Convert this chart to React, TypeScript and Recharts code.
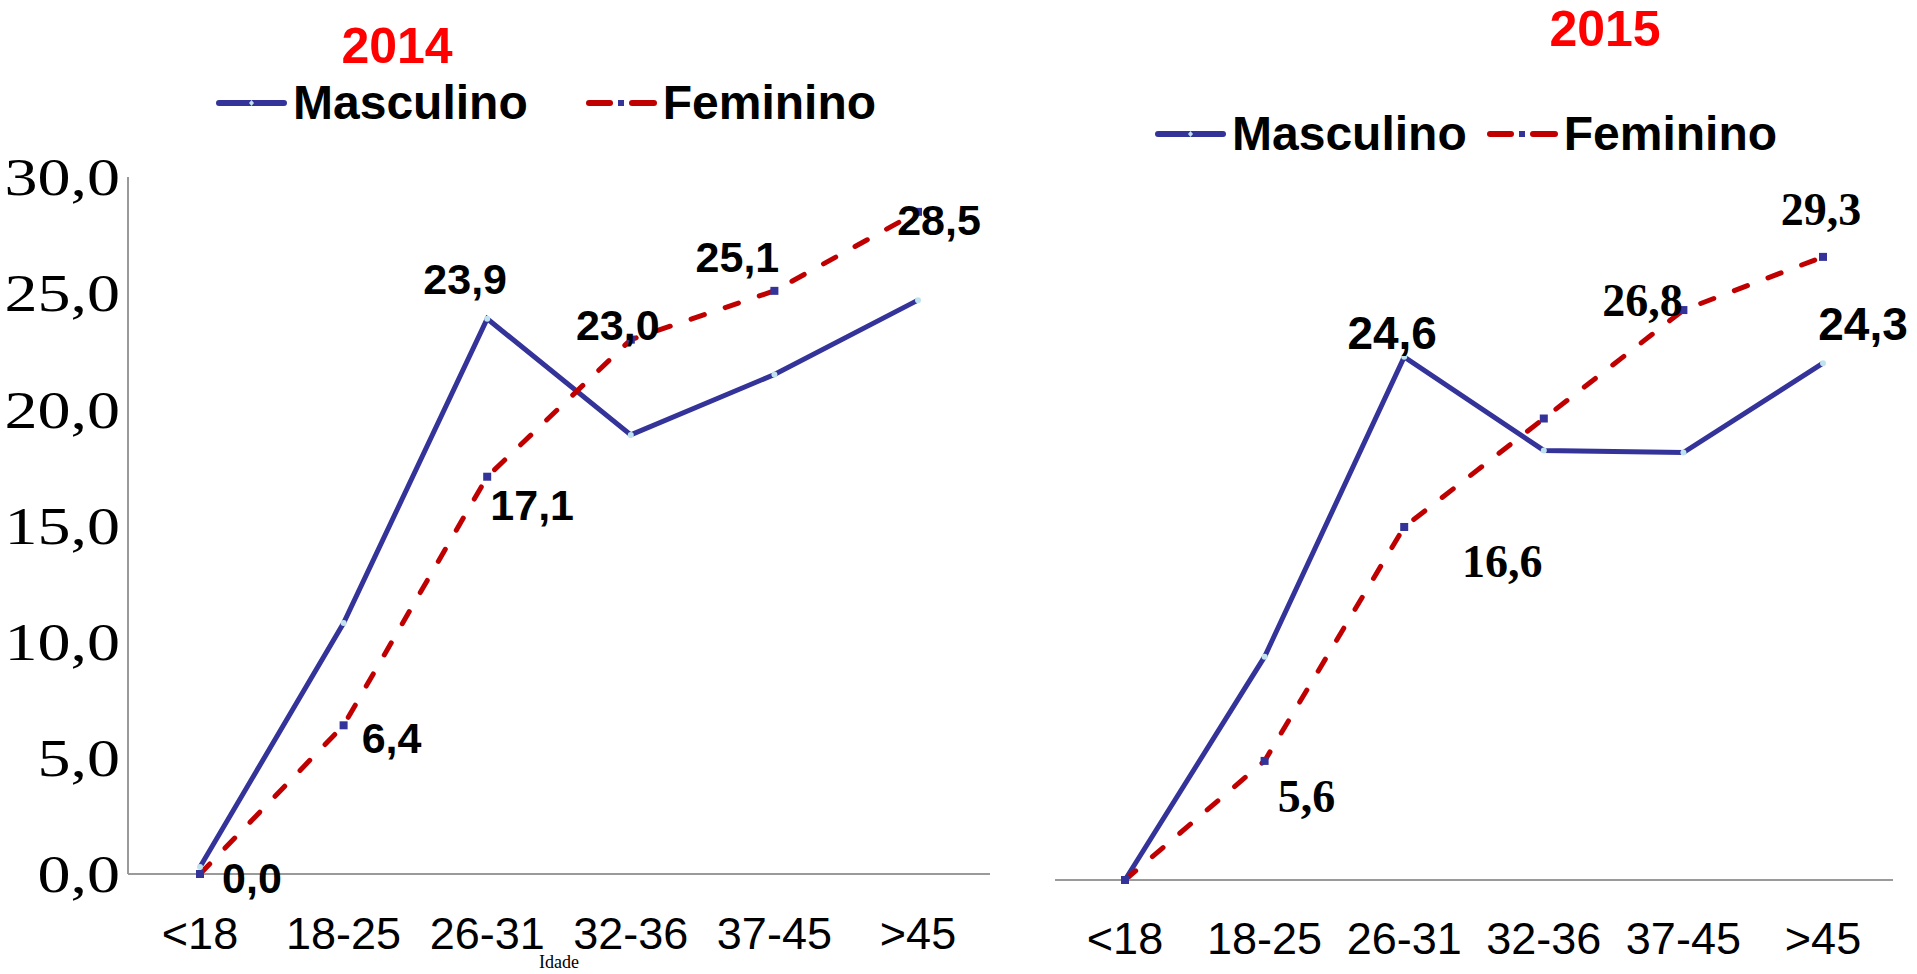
import { LabelList, Legend, Line, LineChart, XAxis, YAxis } from "recharts"

const faixas = ["<18", "18-25", "26-31", "32-36", "37-45", ">45"]
const masculino2014 = [0.3, 10.8, 23.9, 18.9, 21.5, 24.7]
const feminino2014 = [0.0, 6.4, 17.1, 23.0, 25.1, 28.5]
const masculino2015 = [0.0, 10.5, 24.6, 20.2, 20.1, 24.3]
const feminino2015 = [0.0, 5.6, 16.6, 21.7, 26.8, 29.3]
const yTicks = [0, 5, 10, 15, 20, 25, 30]
const seriesOrder = ["Masculino", "Feminino"]

const MASC = "#333399"
const FEM = "#C00000"
const AXIS = "#9a9a9a"
const SANS = "'Liberation Sans', Arial, sans-serif"
const SERIF = "'Liberation Serif', 'Times New Roman', serif"

const rows = (m: number[], f: number[]) =>
  faixas.map((faixa, i) => ({ faixa, Masculino: m[i], Feminino: f[i] }))

const fmt = (v: number) => v.toFixed(1).replace(".", ",")

// label offsets from the point, null = no label
type Off = [number, number] | null
const mascOff2014: Off[] = [null, null, [-22, -40], null, null, null]
const femOff2014: Off[] = [[52, 4], [48, 13], [45, 28], [-13, -15], [-37, -34], [21, 8]]
const mascOff2015: Off[] = [null, null, [-12, -24], null, null, [40, -39]]
const femOff2015: Off[] = [null, [42, 36], [98, 35], null, [-41, -10], [-2, -47]]

const makeLabel = (offs: Off[], family: string, size: number) => (props: any) => {
  const { x, y, value, index } = props
  const o = offs[index]
  if (!o || x == null) return null
  return (
    <text
      x={x + o[0]}
      y={y + o[1]}
      textAnchor="middle"
      dominantBaseline="central"
      fontFamily={family}
      fontWeight="bold"
      fontSize={size}
      fill="#000"
    >
      {fmt(value)}
    </text>
  )
}

const MascDot = (props: any) => {
  const { cx, cy, index } = props
  if (cx == null) return <g key={index} />
  return <circle key={index} cx={cx} cy={cy} r={3} fill="#BFE3EE" />
}

const FemDot = (props: any) => {
  const { cx, cy, index } = props
  if (cx == null) return <g key={index} />
  return <rect key={index} x={cx - 4} y={cy - 4} width={8} height={8} fill={MASC} />
}

const MascIcon = () => (
  <svg width={71} height={12}>
    <line x1={3} y1={6} x2={68} y2={6} stroke={MASC} strokeWidth={6} strokeLinecap="round" />
    <polygon points="35.5,3 38,6 35.5,9 33,6" fill="#BFE3EE" />
  </svg>
)

const FemIcon = () => (
  <svg width={71} height={12}>
    <line x1={3} y1={6} x2={24} y2={6} stroke={FEM} strokeWidth={6} strokeLinecap="round" />
    <rect x={32} y={3} width={6} height={6} fill={MASC} />
    <line x1={46} y1={6} x2={68} y2={6} stroke={FEM} strokeWidth={6} strokeLinecap="round" />
  </svg>
)

const legendContent = (gap: number) => (props: any) => {
  const items = [...(props.payload || [])].sort(
    (a: any, b: any) => seriesOrder.indexOf(a.value) - seriesOrder.indexOf(b.value)
  )
  return (
    <div
      style={{
        display: "flex",
        alignItems: "center",
        gap,
        fontFamily: SANS,
        fontWeight: "bold",
        fontSize: 48,
        lineHeight: "46px",
        color: "#000",
      }}
    >
      {items.map((entry: any) => (
        <div key={entry.value} style={{ display: "flex", alignItems: "center", gap: 6 }}>
          {entry.value === "Masculino" ? <MascIcon /> : <FemIcon />}
          <span>{entry.value}</span>
        </div>
      ))}
    </div>
  )
}

const YTick = (props: any) => {
  const { x, y, payload } = props
  return (
    <text
      transform={`translate(${x},${y}) scale(1.27,1)`}
      textAnchor="end"
      dy="0.35em"
      fontFamily={SERIF}
      fontSize={52}
      fill="#000"
    >
      {fmt(payload.value)}
    </text>
  )
}

const titleStyle = {
  position: "absolute" as const,
  width: 300,
  textAlign: "center" as const,
  fontFamily: SANS,
  fontWeight: "bold",
  fontSize: 50,
  lineHeight: "50px",
  color: "#FF0000",
}

export default function App() {
  return (
    <div style={{ position: "absolute", left: 0, top: 0, width: 1917, height: 974, background: "#fff", overflow: "hidden" }}>
      <div style={{ ...titleStyle, left: 397 - 150, top: 21 }}>2014</div>
      <div style={{ ...titleStyle, left: 1605 - 150, top: 4 }}>2015</div>

      <div style={{ position: "absolute", left: 0, top: 0 }}>
        <LineChart width={1000} height={974} data={rows(masculino2014, feminino2014)} margin={{ top: 177, right: 10, left: 0, bottom: 0 }}>
          <XAxis
            dataKey="faixa"
            height={100}
            interval={0}
            padding={{ left: 72, right: 72 }}
            tickLine={false}
            tickSize={0}
            tickMargin={43}
            axisLine={{ stroke: AXIS, strokeWidth: 2 }}
            tick={{ fill: "#000", fontSize: 45, fontFamily: SANS }}
            label={{ value: "Idade", position: "insideBottom", offset: 6, fill: "#000", fontSize: 18, fontFamily: SERIF }}
          />
          <YAxis
            width={128}
            domain={[0, 30]}
            ticks={yTicks}
            interval={0}
            tickLine={false}
            tickSize={0}
            tickMargin={8}
            axisLine={{ stroke: AXIS, strokeWidth: 2 }}
            tick={<YTick />}
          />
          <Legend
            layout="horizontal"
            verticalAlign="middle"
            align="center"
            wrapperStyle={{ top: 80, left: 216, width: 760, height: 46 }}
            content={legendContent(58)}
          />
          <Line dataKey="Masculino" stroke={MASC} strokeWidth={5} dot={<MascDot />} activeDot={false} isAnimationActive={false}>
            <LabelList dataKey="Masculino" content={makeLabel(mascOff2014, SANS, 43)} />
          </Line>
          <Line dataKey="Feminino" stroke={FEM} strokeWidth={5} strokeDasharray="14 22" strokeLinecap="round" dot={<FemDot />} activeDot={false} isAnimationActive={false}>
            <LabelList dataKey="Feminino" content={makeLabel(femOff2014, SANS, 43)} />
          </Line>
        </LineChart>
      </div>

      <div style={{ position: "absolute", left: 1000, top: 0 }}>
        <LineChart width={917} height={974} data={rows(masculino2015, feminino2015)} margin={{ top: 242, right: 24, left: 55, bottom: 0 }}>
          <XAxis
            dataKey="faixa"
            height={94}
            interval={0}
            padding={{ left: 70, right: 70 }}
            tickLine={false}
            tickSize={0}
            tickMargin={42}
            axisLine={{ stroke: AXIS, strokeWidth: 2 }}
            tick={{ fill: "#000", fontSize: 45, fontFamily: SANS }}
          />
          <YAxis hide domain={[0, 30]} />
          <Legend
            layout="horizontal"
            verticalAlign="middle"
            align="center"
            wrapperStyle={{ top: 111, left: 155, width: 740, height: 46 }}
            content={legendContent(20)}
          />
          <Line dataKey="Masculino" stroke={MASC} strokeWidth={5} dot={<MascDot />} activeDot={false} isAnimationActive={false}>
            <LabelList dataKey="Masculino" content={makeLabel(mascOff2015, SANS, 46)} />
          </Line>
          <Line dataKey="Feminino" stroke={FEM} strokeWidth={5} strokeDasharray="14 22" strokeLinecap="round" dot={<FemDot />} activeDot={false} isAnimationActive={false}>
            <LabelList dataKey="Feminino" content={makeLabel(femOff2015, SERIF, 46)} />
          </Line>
        </LineChart>
      </div>
    </div>
  )
}
